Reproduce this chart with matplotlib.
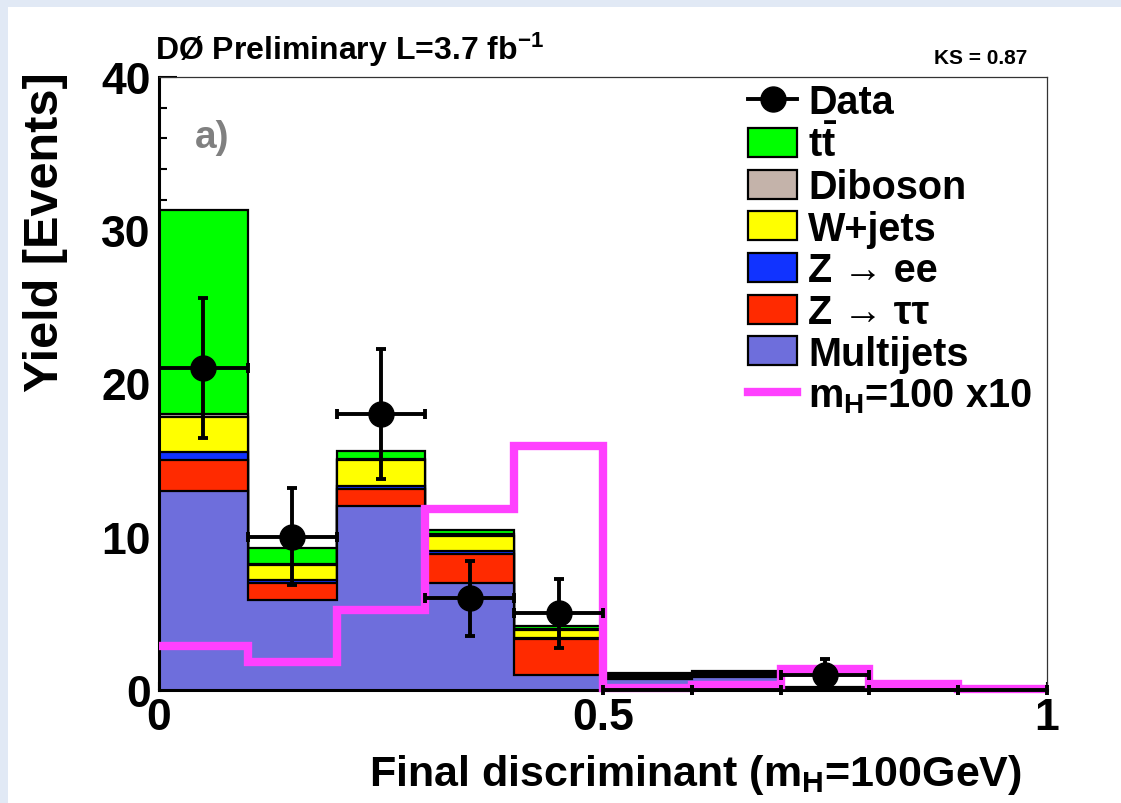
import numpy as np
import matplotlib
matplotlib.use("Agg")
import matplotlib.pyplot as plt
from matplotlib.patches import Patch, Rectangle
from matplotlib.lines import Line2D

plt.rcParams['font.family'] = ['Liberation Sans', 'DejaVu Sans']
plt.rcParams['font.weight'] = 'bold'
plt.rcParams['mathtext.fontset'] = 'custom'
plt.rcParams['mathtext.rm'] = 'Liberation Sans:bold'
plt.rcParams['mathtext.bf'] = 'Liberation Sans:bold'
plt.rcParams['mathtext.it'] = 'Liberation Sans:bold'

# binning of the final discriminant
edges = np.linspace(0.0, 1.0, 11)

# background yields per bin (stacked bottom -> top)
multijets = [13.0, 5.9, 12.0, 7.0, 0.95, 0.75, 0.85, 0.05, 0.03, 0.0]
ztautau   = [2.0, 1.1, 1.1, 1.85, 2.35, 0.1, 0.1, 0.05, 0.03, 0.01]
zee       = [0.5, 0.15, 0.2, 0.2, 0.1, 0.02, 0.02, 0.01, 0.01, 0.0]
wjets     = [2.3, 1.0, 1.7, 1.0, 0.5, 0.08, 0.1, 0.03, 0.02, 0.01]
diboson   = [0.2, 0.1, 0.1, 0.1, 0.05, 0.03, 0.05, 0.02, 0.01, 0.0]
ttbar     = [13.3, 1.0, 0.5, 0.3, 0.2, 0.1, 0.1, 0.02, 0.01, 0.0]

# signal m_H = 100 GeV scaled x10
signal = [2.9, 1.8, 5.2, 11.8, 15.9, 0.15, 0.35, 1.4, 0.4, 0.05]

# observed events
data = [21, 10, 18, 6, 5, 0, 0, 1, 0, 0]

names = ["Multijets", "Z \u2192 \u03c4\u03c4", "Z \u2192 ee",
         "W+jets", "Diboson", r"$\mathbf{t\bar{t}}$"]
colors = ["#6e6edc", "#ff2a00", "#1133ff", "#ffff00", "#c4b3aa", "#00ff00"]

fig = plt.figure(figsize=(11.21, 8.04), dpi=100)
fig.patch.set_facecolor("#e1e9f5")
fig.patches.append(Rectangle((8 / 1121, 0), 1, 1 - 8 / 804, transform=fig.transFigure,
                             facecolor="white", edgecolor="none", zorder=-10))

ax = fig.add_axes([159 / 1121, 1 - 691 / 804, 888 / 1121, 613 / 804])
ax.set_facecolor("white")

# stack: draw cumulative totals from the top down so each layer shows its slice
layers = [multijets, ztautau, zee, wjets, diboson, ttbar]
cum = np.cumsum(np.array(layers, dtype=float), axis=0)
for i in range(len(layers) - 1, -1, -1):
    ax.stairs(cum[i], edges, fill=True, color=colors[i], zorder=2 + (5 - i) * 0.1)
    ax.stairs(cum[i], edges, baseline=0, color="black", linewidth=1.6,
              zorder=2.05 + (5 - i) * 0.1)

ax.stairs(signal, edges, baseline=None, color="#ff40ff", linewidth=6, zorder=4,
          clip_on=False)

centers = 0.5 * (edges[:-1] + edges[1:])
half = 0.5 * np.diff(edges)
d = np.array(data, dtype=float)
has = d > 0
ax.errorbar(centers[has], d[has], xerr=half[has], yerr=np.sqrt(d[has]), fmt="o",
            color="black", ms=18, elinewidth=2.8, capsize=3.5, capthick=2.8, zorder=6)
ax.errorbar(centers[~has], d[~has], xerr=half[~has], fmt="none",
            ecolor="black", elinewidth=2.8, capsize=3.5, capthick=2.8, zorder=6, clip_on=False)

ax.set_xlim(0, 1)
ax.set_ylim(0, 40)
ax.set_xticks([0, 0.5, 1])
ax.set_xticklabels(["0", "0.5", "1"])
ax.set_xticks(np.arange(0, 1.01, 0.1), minor=True)
ax.set_yticks([0, 10, 20, 30, 40])
ax.set_yticks(np.arange(0, 40.1, 2), minor=True)
ax.tick_params(axis="both", which="both", direction="in", labelsize=32, top=False, right=False)
ax.tick_params(axis="y", which="major", length=13, width=1.5, pad=6)
ax.tick_params(axis="y", which="minor", length=6, width=1.5)
ax.tick_params(axis="x", which="both", length=6, width=1.5, pad=5)
for s in ["left", "bottom"]:
    ax.spines[s].set_linewidth(2.2)
for s in ["top", "right"]:
    ax.spines[s].set_linewidth(0.9)
    ax.spines[s].set_color("#333333")

fig.text(0.041, 0.711, "Yield [Events]", rotation=90, ha="center", va="center", fontsize=35)
fig.text(1022 / 1121, 1 - 786 / 804, r"Final discriminant (m$_\mathbf{H}$=100GeV)",
         ha="right", va="baseline", fontsize=31)
fig.text(155 / 1121, 1 - 60 / 804, r"DØ Preliminary L=3.7 fb$^\mathbf{-1}$",
         ha="left", va="baseline", fontsize=23,
         family=["Liberation Sans Narrow", "Liberation Sans"])
fig.text(1027 / 1121, 1 - 64 / 804, "KS = 0.87", ha="right", va="baseline", fontsize=15,
         family=["Liberation Sans Narrow", "Liberation Sans"])
ax.text(0.04, 35.4, "a)", color="#808080", fontsize=28, ha="left", va="baseline")

handles = [Line2D([], [], color="black", marker="o", ms=18, lw=2.8)]
labels = ["Data"]
for i in range(len(layers) - 1, -1, -1):
    handles.append(Patch(facecolor=colors[i], edgecolor="black", linewidth=1.6))
    labels.append(names[i])
handles.append(Line2D([], [], color="#ff40ff", lw=6))
labels.append(r"m$_\mathbf{H}$=100 x10")
ax.legend(handles, labels, loc="upper left", bbox_to_anchor=(748 / 1121, 1 - 84 / 804),
          bbox_transform=fig.transFigure, frameon=False, fontsize=28.5, borderpad=0,
          handlelength=1.25, handleheight=0.75, handletextpad=0.27, labelspacing=0.092,
          borderaxespad=0)

fig.savefig("out.png", dpi=100, facecolor=fig.get_facecolor())
